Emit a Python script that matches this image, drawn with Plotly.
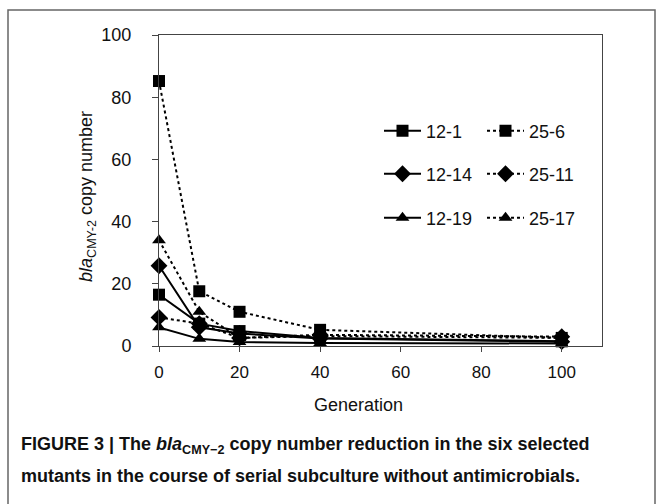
import plotly.graph_objects as go

generation = [0, 10, 20, 40, 100]
s12_1 = [16.5, 7.2, 4.8, 2.6, 1.5]
s25_6 = [85.2, 17.6, 11.0, 5.2, 2.6]
s12_14 = [25.8, 6.0, 4.0, 2.4, 1.4]
s25_11 = [9.2, 7.2, 2.6, 3.6, 3.0]
s12_19 = [6.0, 2.3, 1.3, 1.0, 0.8]
s25_17 = [34.0, 11.0, 2.6, 3.2, 2.6]

series = [
    ("12-1", s12_1, "solid", "square", "legend"),
    ("25-6", s25_6, "dot", "square", "legend"),
    ("12-14", s12_14, "solid", "diamond", "legend2"),
    ("25-11", s25_11, "dot", "diamond", "legend2"),
    ("12-19", s12_19, "solid", "triangle-up", "legend3"),
    ("25-17", s25_17, "dot", "triangle-up", "legend3"),
]

W, H = 662, 504
L, R, T, B = 159, 602, 35, 346


def px(x):
    return (x - L) / (R - L)


def py(y):
    return (B - y) / (B - T)


fig = go.Figure()
for name, vals, dash, sym, leg in series:
    fig.add_trace(go.Scatter(
        x=generation, y=vals, name=name, mode="lines+markers",
        line=dict(color="black", width=2, dash=dash),
        marker=dict(symbol=sym, size=12 if sym != "diamond" else 13, color="black"),
        legend=leg, cliponaxis=False,
    ))

font = "Liberation Sans, Arial, sans-serif"
legend_common = dict(orientation="h", xanchor="left", yanchor="middle",
                     font=dict(family=font, size=18, color="#111"),
                     bgcolor="rgba(0,0,0,0)", entrywidth=51, itemwidth=37,
                     tracegroupgap=0)

fig.update_layout(
    width=W, height=H,
    margin=dict(l=L, r=W - R, t=T, b=H - B),
    plot_bgcolor="white", paper_bgcolor="white",
    font=dict(family=font, size=18, color="#111"),
    xaxis=dict(range=[0, 110], tickvals=[0, 20, 40, 60, 80, 100],
               showline=True, linecolor="#444", linewidth=1, mirror=True,
               ticks="outside", ticklen=5, tickcolor="#444", showgrid=False,
               zeroline=False, tickfont=dict(size=17), ticklabelstandoff=6),
    yaxis=dict(range=[0, 100], tickvals=[0, 20, 40, 60, 80, 100],
               showline=True, linecolor="#444", linewidth=1, mirror=True,
               ticks="outside", ticklen=6, tickcolor="#444", showgrid=False,
               zeroline=False, tickfont=dict(size=18), ticklabelstandoff=17),
    legend=dict(x=px(379), y=py(131), **legend_common),
    legend2=dict(x=px(379), y=py(174), **legend_common),
    legend3=dict(x=px(379), y=py(218), **legend_common),
    showlegend=True,
)

fig.add_shape(type="rect", xref="paper", yref="paper",
              x0=px(8), x1=px(655), y0=py(520), y1=py(10),
              line=dict(color="#666", width=1.5), layer="below")

fig.add_annotation(x=px(87), y=py(197), xref="paper", yref="paper",
                   xanchor="center", yanchor="middle",
                   text="<i>bla</i><sub>CMY-2</sub> copy number", textangle=-90,
                   showarrow=False, font=dict(family=font, size=18, color="#111"))
fig.add_annotation(x=px(358), y=py(405), xref="paper", yref="paper",
                   xanchor="center", yanchor="middle",
                   text="Generation", showarrow=False,
                   font=dict(family=font, size=18, color="#111"))
cap_font = dict(family="Liberation Sans Narrow, Liberation Sans, Arial, sans-serif",
                size=18, color="#111")
fig.add_annotation(x=px(19), y=py(445), xref="paper", yref="paper",
                   xanchor="left", yanchor="middle",
                   text="<b>FIGURE 3 | The <i>bla</i><sub>CMY\u22122</sub> copy number reduction in the six selected</b>",
                   showarrow=False, font=cap_font)
fig.add_annotation(x=px(19), y=py(476), xref="paper", yref="paper",
                   xanchor="left", yanchor="middle",
                   text="<b>mutants in the course of serial subculture without antimicrobials.</b>",
                   showarrow=False, font=cap_font)

fig.write_html("out.html")
